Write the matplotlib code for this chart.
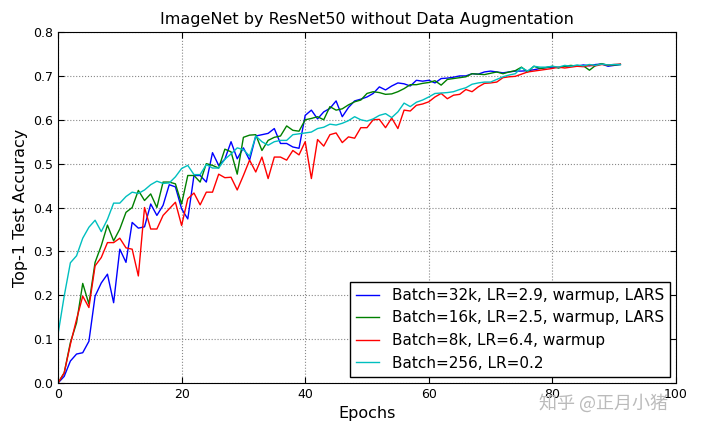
import numpy as np
import matplotlib
matplotlib.use("Agg")
import matplotlib.pyplot as plt

epochs = np.arange(92)

# Batch=32k, LR=2.9, warmup, LARS
acc_32k = [0.0, 0.015, 0.05, 0.066, 0.069, 0.095, 0.198, 0.228, 0.248, 0.183,
           0.305, 0.275, 0.366, 0.353, 0.356, 0.408, 0.382, 0.405, 0.452, 0.447,
           0.397, 0.374, 0.473, 0.473, 0.458, 0.525, 0.496, 0.51, 0.55, 0.511,
           0.536, 0.508, 0.563, 0.566, 0.569, 0.58, 0.546, 0.546, 0.538, 0.535,
           0.61, 0.622, 0.602, 0.618, 0.626, 0.643, 0.607, 0.628, 0.643, 0.647,
           0.652, 0.66, 0.675, 0.668, 0.677, 0.684, 0.682, 0.677, 0.69, 0.688,
           0.69, 0.684, 0.694, 0.695, 0.697, 0.70, 0.70, 0.705, 0.704, 0.709,
           0.711, 0.709, 0.707, 0.709, 0.711, 0.711, 0.712, 0.714, 0.717, 0.719,
           0.72, 0.719, 0.722, 0.723, 0.722, 0.725, 0.723, 0.726, 0.727, 0.722,
           0.724, 0.726]

# Batch=16k, LR=2.5, warmup, LARS
acc_16k = [0.0, 0.023, 0.092, 0.137, 0.227, 0.18, 0.275, 0.313, 0.36, 0.324,
           0.351, 0.389, 0.40, 0.439, 0.416, 0.431, 0.40, 0.458, 0.458, 0.454,
           0.408, 0.473, 0.473, 0.458, 0.50, 0.496, 0.49, 0.533, 0.527, 0.476,
           0.56, 0.565, 0.566, 0.53, 0.553, 0.56, 0.563, 0.586, 0.576, 0.574,
           0.60, 0.603, 0.607, 0.60, 0.63, 0.622, 0.625, 0.634, 0.641, 0.645,
           0.66, 0.664, 0.662, 0.658, 0.659, 0.664, 0.671, 0.68, 0.68, 0.683,
           0.685, 0.689, 0.679, 0.692, 0.694, 0.696, 0.698, 0.705, 0.704, 0.703,
           0.706, 0.709, 0.705, 0.709, 0.712, 0.72, 0.709, 0.722, 0.717, 0.719,
           0.722, 0.718, 0.722, 0.724, 0.722, 0.723, 0.713, 0.724, 0.728, 0.724,
           0.725, 0.726]

# Batch=8k, LR=6.4, warmup
acc_8k = [0.0, 0.023, 0.088, 0.145, 0.198, 0.172, 0.267, 0.286, 0.32, 0.32,
          0.33, 0.308, 0.305, 0.244, 0.40, 0.351, 0.351, 0.382, 0.397, 0.412,
          0.359, 0.42, 0.433, 0.406, 0.435, 0.435, 0.476, 0.468, 0.469, 0.44,
          0.473, 0.508, 0.481, 0.515, 0.466, 0.515, 0.515, 0.508, 0.53, 0.52,
          0.55, 0.466, 0.555, 0.54, 0.566, 0.57, 0.548, 0.561, 0.558, 0.582,
          0.582, 0.60, 0.601, 0.582, 0.604, 0.58, 0.622, 0.62, 0.633, 0.636,
          0.641, 0.652, 0.66, 0.648, 0.656, 0.658, 0.669, 0.664, 0.675, 0.683,
          0.684, 0.686, 0.696, 0.698, 0.699, 0.704, 0.709, 0.711, 0.713, 0.715,
          0.717, 0.72, 0.718, 0.72, 0.722, 0.721, 0.724, 0.723, 0.726, 0.725,
          0.726, 0.727]

# Batch=256, LR=0.2
acc_256 = [0.111, 0.198, 0.274, 0.29, 0.33, 0.355, 0.371, 0.345, 0.373, 0.41,
           0.41, 0.425, 0.435, 0.432, 0.44, 0.452, 0.46, 0.455, 0.456, 0.47,
           0.489, 0.496, 0.475, 0.475, 0.498, 0.49, 0.49, 0.51, 0.522, 0.536,
           0.532, 0.517, 0.563, 0.55, 0.542, 0.55, 0.553, 0.553, 0.566, 0.568,
           0.57, 0.572, 0.58, 0.583, 0.59, 0.588, 0.592, 0.598, 0.607, 0.60,
           0.597, 0.602, 0.61, 0.614, 0.605, 0.618, 0.638, 0.63, 0.64, 0.645,
           0.652, 0.66, 0.661, 0.662, 0.664, 0.669, 0.673, 0.681, 0.684, 0.686,
           0.686, 0.692, 0.698, 0.702, 0.705, 0.719, 0.711, 0.722, 0.72, 0.72,
           0.722, 0.72, 0.724, 0.722, 0.725, 0.723, 0.726, 0.724, 0.727, 0.725,
           0.726, 0.726]

labels = ["Batch=32k, LR=2.9, warmup, LARS",
          "Batch=16k, LR=2.5, warmup, LARS",
          "Batch=8k, LR=6.4, warmup",
          "Batch=256, LR=0.2"]
colors = ["#0000ff", "#008000", "#ff0000", "#00bfbf"]

fig = plt.figure(figsize=(7.04, 4.33), dpi=100)
ax = fig.add_axes([0.0824, 0.1155, 0.8778, 0.8105])

for y, lab, c in zip([acc_32k, acc_16k, acc_8k, acc_256], labels, colors):
    ax.plot(epochs, y, color=c, lw=1.0, label=lab)

ax.set_xlim(0, 100)
ax.set_ylim(0, 0.8)
ax.set_xticks(np.arange(0, 101, 20))
ax.set_yticks(np.arange(0, 0.81, 0.1))
ax.set_yticklabels(["%.1f" % v for v in np.arange(0, 0.81, 0.1)])
ax.tick_params(direction="in", top=True, right=True, labelsize=9, length=4)
ax.grid(True, linestyle=":", color="#888888", lw=0.8)

ax.set_title("ImageNet by ResNet50 without Data Augmentation", fontsize=11.5)
ax.set_xlabel("Epochs", fontsize=11.5)
ax.set_ylabel("Top-1 Test Accuracy", fontsize=11.5)

leg = ax.legend(loc="lower right", fontsize=11, handlelength=1.5,
                fancybox=False, framealpha=1, borderaxespad=0.4)
leg.get_frame().set_edgecolor("black")

fig.text(0.765, 0.055, "知乎 @正月小猪", fontsize=13, color="#bbbbbb",
         family=["Noto Sans CJK SC", "DejaVu Sans"])

fig.savefig("out.png", dpi=100)
